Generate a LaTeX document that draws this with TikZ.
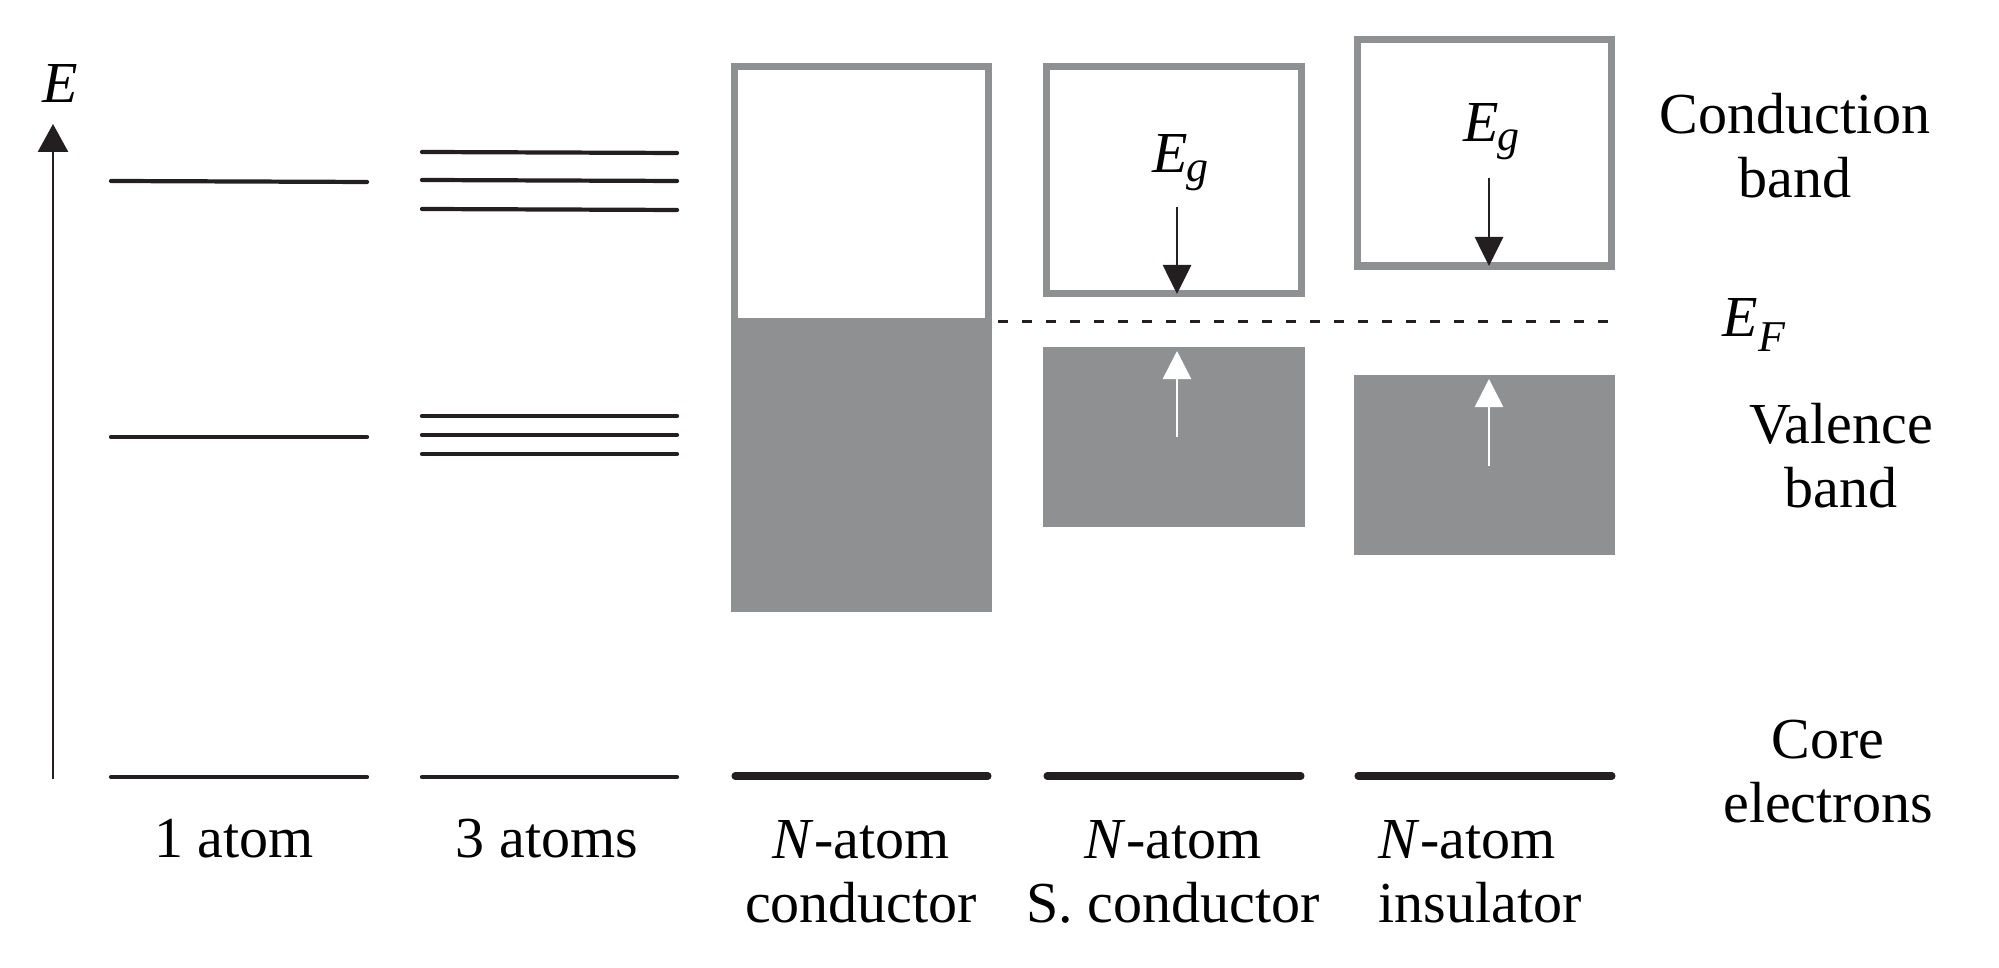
\documentclass[tikz,border=0pt]{standalone}
\usepackage{fontspec}
\setmainfont{Liberation Serif}
\usetikzlibrary{arrows.meta}
\definecolor{bandgray}{RGB}{143,144,146}
\definecolor{ink}{RGB}{35,31,32}
\newcommand{\subg}{\kern-0.6pt\raisebox{-2.5pt}{\fontsize{12.5}{12.5}\selectfont\itshape g}}
\newcommand{\subF}{\raisebox{-0.25em}{\fontsize{12.5}{12.5}\selectfont\itshape F}}
\begin{document}
\begin{tikzpicture}[x=0.01cm,y=-0.01cm,
  level/.style={draw=ink,line width=1.2pt,line cap=round},
  corelevel/.style={draw=ink,line width=2pt,line cap=round},
  bandbox/.style={draw=bandgray,line width=2pt},
  bandfill/.style={fill=bandgray},
  lbl/.style={font=\fontsize{16.5}{18.4}\selectfont,inner sep=0pt,align=center,anchor=base},
  axisarrow/.style={draw=ink,line width=0.8pt,-{Triangle[width=0.3cm,length=0.28cm]}},
  gaparrow/.style={draw=ink,line width=0.8pt,-{Triangle[width=0.28cm,length=0.29cm]}},
  holearrow/.style={draw=white,line width=0.75pt,-{Triangle[width=0.28cm,length=0.28cm]}}
]
\useasboundingbox (0,0) rectangle (1999,968);

% energy axis
\coordinate (axbot) at (53,779);
\coordinate (axtop) at (53,124);
\draw[axisarrow] (axbot) -- (axtop);
\node[lbl,anchor=base west] (Elbl) at (42,103) {\itshape E};

% 1 atom
\draw[level] (111,181) -- (367,182);
\draw[level] (111,437) -- (367,437);
\draw[level] (111,777) -- (367,777);
% 3 atoms
\draw[level] (422,152) -- (677,153);
\draw[level] (422,180) -- (677,181);
\draw[level] (422,209) -- (677,210);
\draw[level] (422,416) -- (677,416);
\draw[level] (422,435) -- (677,435);
\draw[level] (422,454) -- (677,454);
\draw[level] (422,777) -- (677,777);

% N-atom conductor
\fill[bandfill] (731,318) rectangle (992,612);
\draw[bandbox] (734.5,318) -- (734.5,66.5) -- (988.5,66.5) -- (988.5,318);
\draw[corelevel] (735,776) -- (988,776);

% N-atom semiconductor
\draw[bandbox] (1046.5,66.5) rectangle (1301.5,293.5);
\fill[bandfill] (1043,347) rectangle (1305,527);
\draw[corelevel] (1047,776) -- (1301,776);
\coordinate (g1top) at (1177,207);
\coordinate (g1bot) at (1177,294);
\draw[gaparrow] (g1top) -- (g1bot);
\coordinate (h1bot) at (1177,437);
\coordinate (h1top) at (1177,351);
\draw[holearrow] (h1bot) -- (h1top);
\node[lbl,anchor=base west] (Eg1) at (1152,173) {\itshape E\subg};

% N-atom insulator
\draw[bandbox] (1357.5,39.5) rectangle (1611.5,266);
\fill[bandfill] (1354,375) rectangle (1615,555);
\draw[corelevel] (1358,776) -- (1612,776);
\coordinate (g2top) at (1489,178);
\coordinate (g2bot) at (1489,266);
\draw[gaparrow] (g2top) -- (g2bot);
\coordinate (h2bot) at (1489,466);
\coordinate (h2top) at (1489,379);
\draw[holearrow] (h2bot) -- (h2top);
\node[lbl,anchor=base west] (Eg2) at (1463,142) {\itshape E\subg};

% Fermi level
\coordinate (efl) at (998,322);
\coordinate (efr) at (1612,322);
\draw[draw=ink,line width=0.85pt,dash pattern=on 0.1cm off 0.14cm] (efl) -- (efr);
\node[lbl,anchor=base west] (EF) at (1722,337) {\itshape E\subF};

% right labels (anchor = baseline of last line)
\node[lbl] (cb) at (1795,198) {Conduction\\band};
\node[lbl] (vb) at (1841,508) {Valence\\band};
\node[lbl] (ce) at (1828,823) {Core\\electrons};

% bottom labels
\node[lbl] (l1) at (234,858) {1 atom};
\node[lbl] (l3) at (547,858) {3 atoms};
\node[lbl] (lc) at (861,923) {\textit{N}-atom\\conductor};
\node[lbl] (ls) at (1173,923) {\textit{N}-atom\\S. conductor};
\node[lbl,anchor=base west,align=left] (li) at (1378,923) {\textit{N}-atom\\insulator};
\end{tikzpicture}
\end{document}
